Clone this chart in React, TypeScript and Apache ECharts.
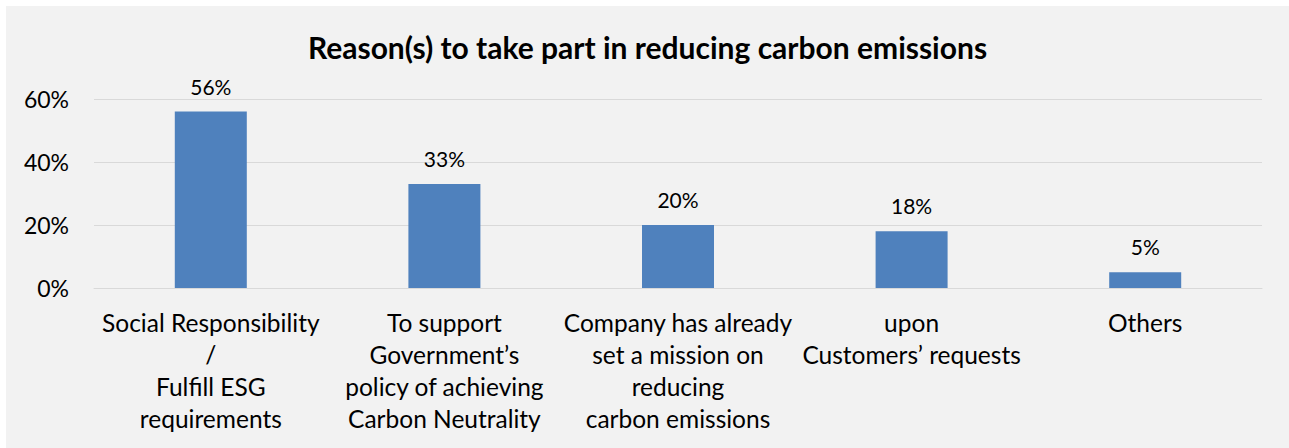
import React, { useEffect, useRef } from "react";
import * as echarts from "echarts";

const categories = [
  "Social Responsibility\n/\nFulfill ESG\nrequirements",
  "To support\nGovernment’s\npolicy of achieving\nCarbon Neutrality",
  "Company has already\nset a mission on\nreducing\ncarbon emissions",
  "upon\nCustomers’ requests",
  "Others",
];
const values = [56, 33, 20, 18, 5];
const titleText = "Reason(s) to take part in reducing carbon emissions";

const FONT = "Lato, 'Open Sans', sans-serif";

export default function App() {
  const ref = useRef<HTMLDivElement>(null);
  useEffect(() => {
    if (!ref.current) return;
    const chart = echarts.init(ref.current, undefined, { renderer: "svg" });
    chart.setOption({
      animation: false,
      backgroundColor: "#f2f2f2",
      title: {
        text: titleText,
        left: "center",
        top: 21,
        textStyle: { fontFamily: FONT, fontSize: 30, fontWeight: "bold", color: "#000" },
      },
      grid: { left: 88, right: 27, top: 93, bottom: 160, containLabel: false },
      xAxis: {
        type: "category",
        data: categories,
        axisLine: { show: true, lineStyle: { color: "#d9d9d9", width: 1 } },
        axisTick: { show: false },
        axisLabel: {
          interval: 0,
          margin: 18,
          fontFamily: FONT,
          fontSize: 24.5,
          color: "#000",
          lineHeight: 32,
          align: "center",
        },
      },
      yAxis: {
        type: "value",
        min: 0,
        max: 60,
        interval: 20,
        axisLine: { show: false },
        axisTick: { show: false },
        splitLine: { lineStyle: { color: "#d9d9d9", width: 1 } },
        axisLabel: {
          formatter: "{value}%",
          margin: 25,
          fontFamily: FONT,
          fontSize: 23,
          color: "#000",
        },
      },
      series: [
        {
          type: "bar",
          data: values,
          barWidth: 72,
          itemStyle: { color: "#4f81bd" },
          label: {
            show: true,
            position: "top",
            distance: 15,
            formatter: "{c}%",
            fontFamily: FONT,
            fontSize: 21,
            color: "#000",
          },
        },
      ],
    });
    return () => chart.dispose();
  }, []);
  return (
    <div
      ref={ref}
      style={{ position: "fixed", left: 6, top: 6, width: 1283, height: 442 }}
    />
  );
}
